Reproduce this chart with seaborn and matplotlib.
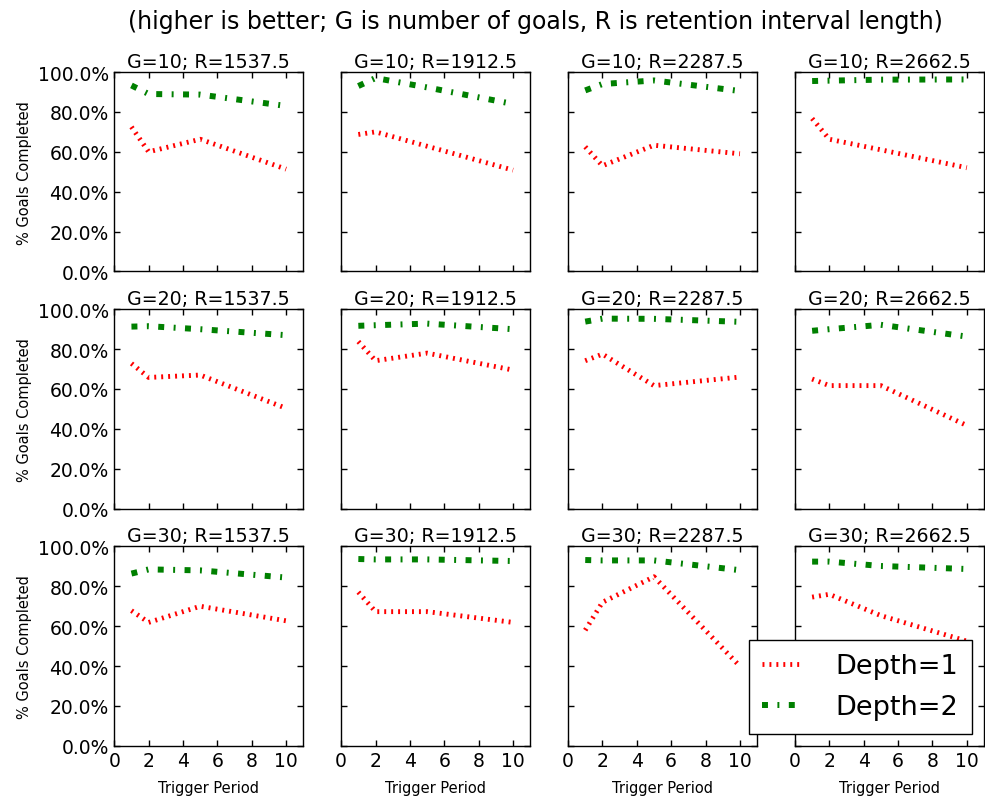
import matplotlib
matplotlib.use("Agg")
import matplotlib.pyplot as plt
import pandas as pd
import seaborn as sns
from matplotlib.ticker import PercentFormatter

# trigger periods on the x axis
periods = [1, 2, 5, 10]
goals = [10, 20, 30]
retention = [1537.5, 1912.5, 2287.5, 2662.5]

# % goals completed, one list per retention interval
depth1_g10 = [[0.725, 0.600, 0.663, 0.513], [0.687, 0.700, 0.628, 0.508],
              [0.625, 0.530, 0.633, 0.590], [0.767, 0.663, 0.610, 0.520]]
depth1_g20 = [[0.728, 0.658, 0.670, 0.503], [0.838, 0.742, 0.780, 0.695],
              [0.742, 0.775, 0.617, 0.660], [0.650, 0.617, 0.617, 0.417]]
depth1_g30 = [[0.678, 0.619, 0.700, 0.627], [0.771, 0.673, 0.673, 0.619],
              [0.580, 0.720, 0.848, 0.399], [0.746, 0.760, 0.653, 0.525]]

depth2_g10 = [[0.933, 0.890, 0.887, 0.830], [0.930, 0.970, 0.923, 0.840],
              [0.908, 0.940, 0.958, 0.905], [0.955, 0.957, 0.962, 0.963]]
depth2_g20 = [[0.913, 0.915, 0.900, 0.870], [0.917, 0.920, 0.928, 0.900],
              [0.938, 0.953, 0.952, 0.937], [0.892, 0.900, 0.922, 0.863]]
depth2_g30 = [[0.864, 0.885, 0.880, 0.844], [0.937, 0.935, 0.935, 0.927],
              [0.932, 0.930, 0.930, 0.881], [0.924, 0.924, 0.902, 0.887]]

depth1 = [depth1_g10, depth1_g20, depth1_g30]
depth2 = [depth2_g10, depth2_g20, depth2_g30]
labels = ["Depth=1", "Depth=2"]

sns.set_theme(style="white", rc={
    "axes.edgecolor": "black",
    "axes.linewidth": 1.0,
    "axes.labelcolor": "black",
    "text.color": "black",
    "xtick.direction": "in",
    "ytick.direction": "in",
    "xtick.top": True,
    "ytick.right": True,
    "xtick.bottom": True,
    "ytick.left": True,
    "xtick.major.size": 4.5,
    "ytick.major.size": 4.5,
    "xtick.major.width": 1.0,
    "ytick.major.width": 1.0,
    "xtick.color": "black",
    "ytick.color": "black",
    "lines.scale_dashes": False,
})
plt.rcParams["font.family"] = ["DejaVu Sans"]

fig, axes = plt.subplots(3, 4, figsize=(9.85, 8.03), dpi=100, sharex=True, sharey=True)
fig.subplots_adjust(left=0.116, right=0.999, top=0.909, bottom=0.07,
                    wspace=0.2, hspace=0.19)

for i, g in enumerate(goals):
    for j, r in enumerate(retention):
        ax = axes[i, j]
        df = pd.DataFrame({"period": periods,
                           "d1": depth1[i][j],
                           "d2": depth2[i][j]})
        sns.lineplot(data=df, x="period", y="d1", ax=ax, color="red",
                     linewidth=3.5, linestyle=(0, (1.4, 3.6)), legend=False)
        sns.lineplot(data=df, x="period", y="d2", ax=ax, color="green",
                     linewidth=4.3, linestyle=(0, (4.3, 6.8, 1.4, 6.8)), legend=False)
        ax.set_title(f"G={g}; R={r}", fontsize=13.7, pad=4)
        ax.set_xlim(0, 11)
        ax.set_ylim(0, 1)
        ax.set_xticks([0, 2, 4, 6, 8, 10])
        ax.set_yticks([0, 0.2, 0.4, 0.6, 0.8, 1.0])
        ax.yaxis.set_major_formatter(PercentFormatter(xmax=1, decimals=1))
        ax.tick_params(labelsize=13.5, pad=4)
        ax.set_xlabel("Trigger Period" if i == 2 else "", fontsize=10.5, labelpad=7)
        ax.set_ylabel("% Goals Completed" if j == 0 else "", fontsize=10.5)

last = axes[2, 3]
leg = last.legend(handles=last.lines[:2], labels=labels, loc="lower right",
                  fontsize=19.5, frameon=True, fancybox=False, framealpha=1,
                  handlelength=1.5, handletextpad=1.2, borderpad=0.5,
                  labelspacing=0.55, borderaxespad=0.45)
leg.get_frame().set_edgecolor("black")
leg.get_frame().set_linewidth(1.0)

fig.suptitle("(higher is better; G is number of goals, R is retention interval length)",
             fontsize=17, x=0.544, y=0.988)

fig.savefig("out.png", dpi=100, facecolor="white")
